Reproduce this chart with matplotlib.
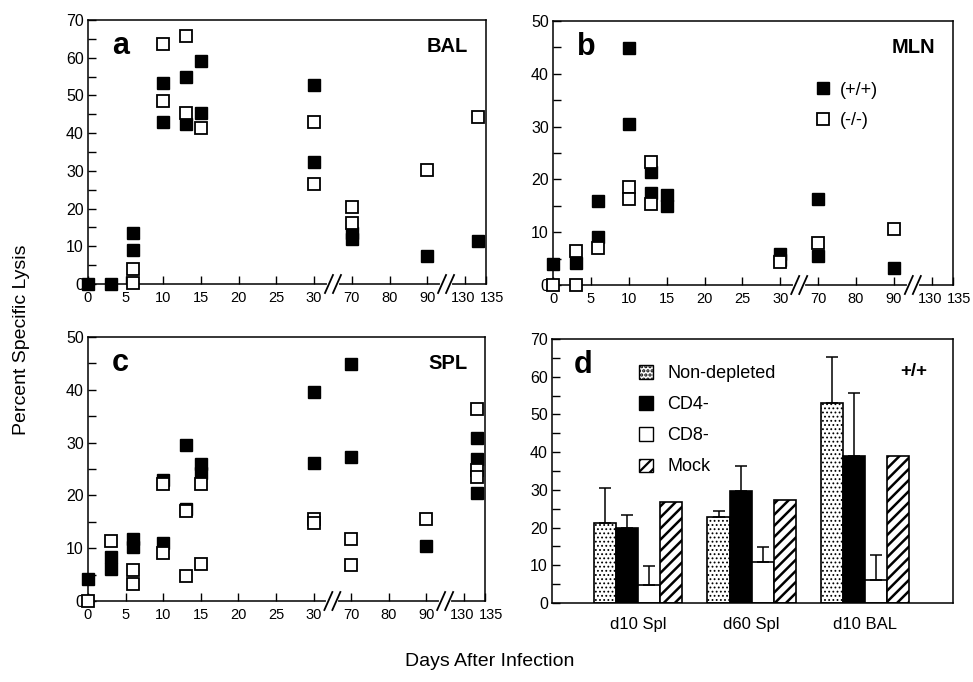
import numpy as np
import matplotlib
matplotlib.use("Agg")
import matplotlib.pyplot as plt
from matplotlib.lines import Line2D
from matplotlib.patches import Patch
from matplotlib.transforms import ScaledTranslation

plt.rcParams['font.family'] = ['Liberation Sans', 'DejaVu Sans']
plt.rcParams['hatch.linewidth'] = 1.6

# ---------------- data ----------------
x_ticks = [0, 5, 10, 15, 20, 25, 30, 70, 80, 90, 130, 135]
x_ticklabels = ['0', '5', '10', '15', '20', '25', '30', '70', '80', '90', '130', '135']
scale_days = [0, 30, 70, 90, 130, 135]
scale_pos = [0, 6, 7, 9, 10, 10.56]
breaks_days = [50, 110]

a_closed_days = [0, 3, 6, 6, 10, 10, 13, 13, 15, 15, 30, 30, 70, 70, 90, 133]
a_closed_vals = [0, 0, 13.4, 9.0, 53.4, 43.0, 55.0, 42.4, 59.2, 45.3, 52.8, 32.4, 13.5, 11.8, 7.4, 11.5]
a_open_days = [6, 6, 10, 10, 13, 13, 15, 30, 30, 70, 70, 90, 133]
a_open_vals = [0.2, 4.1, 63.7, 48.6, 65.8, 45.3, 41.3, 26.5, 42.9, 20.3, 16.3, 30.2, 44.2]

b_closed_days = [0, 3, 6, 6, 10, 10, 13, 13, 15, 15, 30, 30, 70, 70, 90]
b_closed_vals = [3.9, 4.1, 16.0, 9.0, 44.9, 30.4, 21.4, 17.5, 17.0, 14.9, 5.9, 4.7, 16.2, 5.5, 3.2]
b_open_days = [0, 3, 3, 6, 10, 10, 13, 13, 30, 70, 90]
b_open_vals = [0, 0, 6.5, 7.1, 18.5, 16.3, 23.3, 15.3, 4.4, 8.0, 10.7]

c_closed_days = [0, 3, 3, 6, 6, 10, 10, 13, 13, 15, 15, 30, 30, 70, 70, 90, 133, 133, 133]
c_closed_vals = [4.1, 8.4, 6.1, 11.8, 10.3, 23.0, 10.9, 29.6, 17.5, 25.9, 24.2, 39.5, 26.2, 44.9, 27.2, 10.5, 30.9, 26.9, 20.5]
c_open_days = [0, 3, 6, 6, 10, 10, 13, 13, 15, 15, 30, 30, 70, 70, 90, 133, 133, 133]
c_open_vals = [0, 11.3, 5.9, 3.2, 22.1, 9.0, 4.7, 17.0, 22.2, 7.0, 15.6, 14.7, 11.8, 6.9, 15.6, 36.4, 24.9, 23.5]

d_groups = ['d10 Spl', 'd60 Spl', 'd10 BAL']
d_series = ['Non-depleted', 'CD4-', 'CD8-', 'Mock']
d_nondep = [21.2, 22.7, 53.0]
d_nondep_err = [9.3, 1.6, 12.2]
d_cd4 = [19.9, 29.6, 38.9]
d_cd4_err = [3.5, 6.7, 16.8]
d_cd8 = [4.9, 10.9, 6.2]
d_cd8_err = [5.0, 3.9, 6.4]
d_mock = [26.8, 27.2, 39.1]

legend_labels = ['(+/+)', '(-/-)']

# ---------------- figure ----------------
W, H = 973, 682
fig = plt.figure(figsize=(W / 100, H / 100), dpi=100)


def ax_rect(l, r, t, b):
    return [l / W, (H - b) / H, (r - l) / W, (b - t) / H]


def fwd(x):
    return np.interp(np.asarray(x, float), scale_days, scale_pos)


def inv(p):
    return np.interp(np.asarray(p, float), scale_pos, scale_days)


def style_axis(ax, ymax):
    ax.set_ylim(0, ymax)
    ax.set_yticks(np.arange(0, ymax + 1, 10))
    ax.set_yticks(np.arange(5, ymax, 10), minor=True)
    ax.tick_params(axis='y', which='both', direction='in', length=6, width=1.0,
                   labelsize=11.5, pad=3, right=False)
    for s in ax.spines.values():
        s.set_linewidth(1.1)


def scatter_panel(rect, ymax, cd, cv, od, ov, letter, tissue):
    ax = fig.add_axes(rect)
    ax.set_xscale('function', functions=(fwd, inv))
    ax.set_xlim(0, 135)
    ax.set_xticks(x_ticks)
    ax.set_xticklabels(x_ticklabels)
    ax.set_xticks([], minor=True)
    style_axis(ax, ymax)
    ax.tick_params(axis='x', direction='in', length=6, width=1.0,
                   labelsize=10.5, pad=5, top=False)
    # nudge the crowded 130/135 labels apart as in the reference
    labs = ax.get_xticklabels()
    labs[-2].set_transform(labs[-2].get_transform() +
                           ScaledTranslation(-2 / 100, 0, fig.dpi_scale_trans))
    labs[-1].set_transform(labs[-1].get_transform() +
                           ScaledTranslation(6 / 100, 0, fig.dpi_scale_trans))
    ax.plot(cd, cv, 's', ms=8, mfc='black', mec='black', mew=1.0,
            ls='none', clip_on=False, zorder=4)
    ax.plot(od, ov, 's', ms=8, mfc='white', mec='black', mew=1.3,
            ls='none', clip_on=False, zorder=5)
    ax.text(0.06, 0.87, letter, transform=ax.transAxes, fontsize=22,
            fontweight='bold', ha='left', va='baseline')
    ax.text(0.955, 0.88, tissue, transform=ax.transAxes, fontsize=14.5,
            fontweight='bold', ha='right', va='baseline')
    # axis breaks
    bbox = ax.get_window_extent()
    for bd in breaks_days:
        xa = ax.transAxes.inverted().transform(ax.transData.transform((bd, 0)))[0]
        dx = 1.0 / bbox.width
        dy = 1.0 / bbox.height
        ax.plot([xa - 4 * dx, xa + 4 * dx], [0, 0], color='white', lw=3,
                transform=ax.transAxes, clip_on=False, zorder=6)
        for off in (-4, 4):
            ax.plot([xa + (off - 4) * dx, xa + (off + 4) * dx],
                    [-9 * dy, 9 * dy], color='black', lw=1.3,
                    transform=ax.transAxes, clip_on=False, zorder=7)
    return ax


ax_a = scatter_panel(ax_rect(88, 486, 20, 284), 70, a_closed_days, a_closed_vals,
                     a_open_days, a_open_vals, 'a', 'BAL')
ax_b = scatter_panel(ax_rect(553, 953, 21, 285), 50, b_closed_days, b_closed_vals,
                     b_open_days, b_open_vals, 'b', 'MLN')
ax_c = scatter_panel(ax_rect(88, 485, 337, 601), 50, c_closed_days, c_closed_vals,
                     c_open_days, c_open_vals, 'c', 'SPL')

leg_handles = [Line2D([], [], marker='s', ms=9, mfc='black', mec='black', ls='none'),
               Line2D([], [], marker='s', ms=9, mfc='white', mec='black', mew=1.3, ls='none')]
ax_b.legend(leg_handles, legend_labels, loc='upper left', bbox_to_anchor=(0.635, 0.805),
            frameon=False, fontsize=13, handlelength=0.8, handletextpad=0.5,
            labelspacing=0.75, borderpad=0)

# ---------------- panel d ----------------
ax_d = fig.add_axes(ax_rect(552, 953, 339, 603))
style_axis(ax_d, 70)
xg = np.arange(len(d_groups))
bw = 0.194
vals = [d_nondep, d_cd4, d_cd8, d_mock]
errs = [d_nondep_err, d_cd4_err, d_cd8_err, None]
faces = ['white', 'black', 'white', 'white']
hatches = ['....', None, None, '///']
hatch_lws = [0.8, 1.6, 1.6, 1.8]
for i, (v, e, fc, hh) in enumerate(zip(vals, errs, faces, hatches)):
    xpos = xg + (i - 1.5) * bw
    bars = ax_d.bar(xpos, v, width=bw, color=fc, edgecolor='black', linewidth=1.2,
                    hatch=hh, zorder=2, label=d_series[i])
    for p in bars:
        if hasattr(p, 'set_hatch_linewidth'):
            p.set_hatch_linewidth(hatch_lws[i])
    if e is not None:
        ax_d.errorbar(xpos, v, yerr=[np.zeros(len(e)), e], fmt='none',
                      ecolor='black', elinewidth=1.1, capsize=4.5, capthick=1.1,
                      zorder=3)
ax_d.set_xlim(-0.758, 2.775)
ax_d.set_xticks(xg)
ax_d.set_xticklabels(d_groups)
ax_d.tick_params(axis='x', length=0, labelsize=12, pad=10)
ax_d.text(0.055, 0.87, 'd', transform=ax_d.transAxes, fontsize=22,
          fontweight='bold', ha='left', va='baseline')
ax_d.text(0.935, 0.86, '+/+', transform=ax_d.transAxes, fontsize=13.5,
          fontweight='bold', ha='right', va='baseline')
d_handles = []
for fc, hh, hl in zip(faces, hatches, hatch_lws):
    ph = Patch(facecolor=fc, edgecolor='black', hatch=hh, linewidth=1.0)
    if hasattr(ph, 'set_hatch_linewidth'):
        ph.set_hatch_linewidth(hl)
    d_handles.append(ph)
ax_d.legend(d_handles, d_series, loc='upper left', bbox_to_anchor=(0.195, 0.935),
            frameon=False, fontsize=13, handlelength=0.75, handleheight=0.75,
            handletextpad=0.8, labelspacing=0.78, borderpad=0)

fig.text(22 / W, 1 - 340 / H, 'Percent Specific Lysis', rotation=90,
         ha='center', va='center', fontsize=14)
fig.text(490 / W, 1 - 662 / H, 'Days After Infection', ha='center', va='center',
         fontsize=14)

fig.savefig('out.png', dpi=100)
